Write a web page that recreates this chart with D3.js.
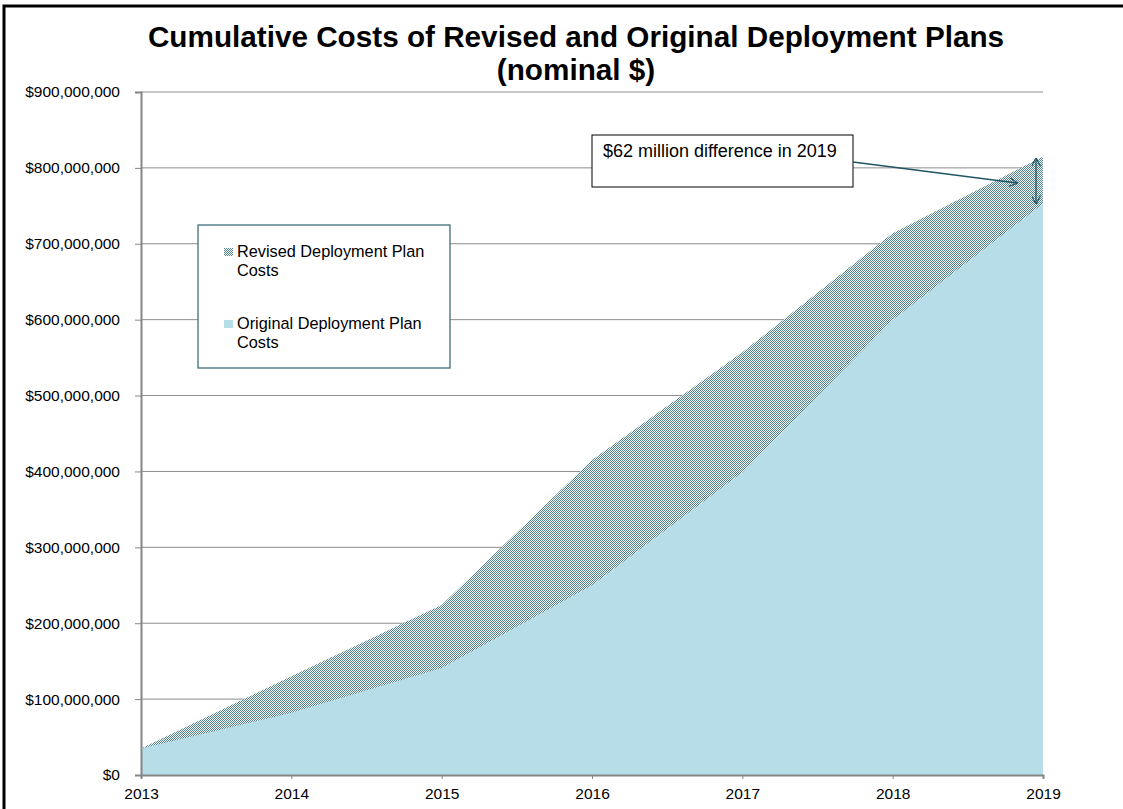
<!DOCTYPE html>
<html>
<head>
<meta charset="utf-8">
<script src="https://cdn.jsdelivr.net/npm/d3@7"></script>
<style>
  body { margin: 0; background: #fff; }
  svg text { font-family: Arial, "Liberation Sans", sans-serif; }
</style>
</head>
<body>
<div id="chart"></div>
<script>
// chart values
let years = [2013, 2014, 2015, 2016, 2017, 2018, 2019];
let revisedCosts = [35000000, 130000000, 224000000, 415000000, 557000000, 714000000, 815000000];
let originalCosts = [35000000, 82000000, 141000000, 250000000, 399000000, 600000000, 753000000];
let yTicks = [0, 100000000, 200000000, 300000000, 400000000, 500000000, 600000000, 700000000, 800000000, 900000000];
let titleLines = ["Cumulative Costs of Revised and Original Deployment Plans", "(nominal $)"];
let legendLabels = [["Revised Deployment Plan", "Costs"], ["Original Deployment Plan", "Costs"]];
let noteText = "$62 million difference in 2019";

let width = 1123, height = 809;
let margin = {top: 92, right: 79, bottom: 34, left: 141};

let svg = d3.select("#chart").append("svg")
    .attr("width", width)
    .attr("height", height);

// checker pattern for the revised plan
let defs = svg.append("defs");
let pat = defs.append("pattern")
    .attr("id", "checker")
    .attr("width", 2).attr("height", 2)
    .attr("patternUnits", "userSpaceOnUse");
pat.append("rect").attr("width", 2).attr("height", 2).attr("fill", "#f2f7f8");
pat.append("rect").attr("width", 1).attr("height", 1).attr("fill", "#55838d");
pat.append("rect").attr("x", 1).attr("y", 1).attr("width", 1).attr("height", 1).attr("fill", "#55838d");

defs.append("marker")
    .attr("id", "arrow")
    .attr("viewBox", "0 0 10 10")
    .attr("refX", 9).attr("refY", 5)
    .attr("markerWidth", 9).attr("markerHeight", 9)
    .attr("markerUnits", "userSpaceOnUse")
    .attr("orient", "auto-start-reverse")
  .append("path")
    .attr("d", "M0,0 L10,5 L0,10")
    .attr("fill", "none")
    .attr("stroke", "#1f5563")
    .attr("stroke-width", 1.3);

// outer frame
svg.append("rect")
    .attr("x", 4).attr("y", 6)
    .attr("width", 1140).attr("height", 840)
    .attr("fill", "none")
    .attr("stroke", "#000")
    .attr("stroke-width", 3);

let x = d3.scaleLinear()
    .domain([2013, 2019])
    .range([margin.left, width - margin.right - 1]);

let y = d3.scaleLinear()
    .domain([0, 900000000])
    .range([height - margin.bottom, margin.top]);

// gridlines
svg.append("g")
    .selectAll("line")
    .data(yTicks.slice(1))
  .enter().append("line")
    .attr("x1", x(2013)).attr("x2", x(2019))
    .attr("y1", d => y(d)).attr("y2", d => y(d))
    .attr("stroke", "#8c8c8c")
    .attr("stroke-width", 1);

let area = (vals) => d3.area()
    .x((d, i) => x(years[i]))
    .y0(y(0))
    .y1(d => y(d))(vals);

svg.append("path")
    .attr("d", area(revisedCosts))
    .attr("fill", "url(#checker)");

svg.append("path")
    .attr("d", area(originalCosts))
    .attr("fill", "#b7dde8");

// axes
let fmt = d => "$" + d3.format(",")(d);
let yAxis = svg.append("g")
    .attr("transform", "translate(" + x(2013) + ",0)")
    .call(d3.axisLeft(y).tickValues(yTicks).tickFormat(fmt).tickSize(6).tickPadding(15));
yAxis.select(".domain").attr("stroke", "#868686").attr("stroke-width", 2);
yAxis.selectAll(".tick line").attr("stroke", "#868686");
yAxis.selectAll("text").attr("font-size", 15.5).attr("fill", "#000");

let xAxis = svg.append("g")
    .attr("transform", "translate(0," + y(0) + ")")
    .call(d3.axisBottom(x).tickValues(years).tickFormat(d3.format("d")).tickSize(4).tickPadding(9));
xAxis.select(".domain").attr("stroke", "#868686").attr("stroke-width", 2);
xAxis.selectAll(".tick line").attr("stroke", "#868686");
xAxis.selectAll("text").attr("font-size", 15.5).attr("fill", "#000");

// title
svg.append("g")
    .selectAll("text")
    .data(titleLines)
  .enter().append("text")
    .attr("x", 576)
    .attr("y", (d, i) => 47 + i * 33)
    .attr("text-anchor", "middle")
    .attr("font-size", 29.7)
    .attr("font-weight", "bold")
    .text(d => d);

// legend
let legend = svg.append("g").attr("transform", "translate(198,225)");
legend.append("rect")
    .attr("width", 252).attr("height", 143)
    .attr("fill", "#fff")
    .attr("stroke", "#2f6271")
    .attr("stroke-width", 1.2);
let swatchFill = ["url(#checker)", "#b7dde8"];
let item = legend.selectAll(".item")
    .data(legendLabels)
  .enter().append("g")
    .attr("class", "item")
    .attr("transform", (d, i) => "translate(26," + (23 + i * 72) + ")");
item.append("rect")
    .attr("width", 9).attr("height", 8)
    .attr("fill", (d, i) => swatchFill[i]);
item.selectAll("text")
    .data(d => d)
  .enter().append("text")
    .attr("x", 13)
    .attr("y", (d, i) => 9 + i * 18.5)
    .attr("font-size", 16.3)
    .text(d => d);

// annotation
svg.append("rect")
    .attr("x", 592).attr("y", 135)
    .attr("width", 261).attr("height", 52)
    .attr("fill", "#fff")
    .attr("stroke", "#000")
    .attr("stroke-width", 1);
svg.append("text")
    .attr("x", 603).attr("y", 157)
    .attr("font-size", 18)
    .text(noteText);
svg.append("line")
    .attr("x1", 853).attr("y1", 162)
    .attr("x2", 1017).attr("y2", 183)
    .attr("stroke", "#1f5563")
    .attr("stroke-width", 1.3)
    .attr("marker-end", "url(#arrow)");
svg.append("line")
    .attr("x1", x(2019) - 7).attr("y1", y(revisedCosts[6]) + 2)
    .attr("x2", x(2019) - 7).attr("y2", y(originalCosts[6]))
    .attr("stroke", "#1f5563")
    .attr("stroke-width", 1.3)
    .attr("marker-start", "url(#arrow)")
    .attr("marker-end", "url(#arrow)");
</script>
</body>
</html>
